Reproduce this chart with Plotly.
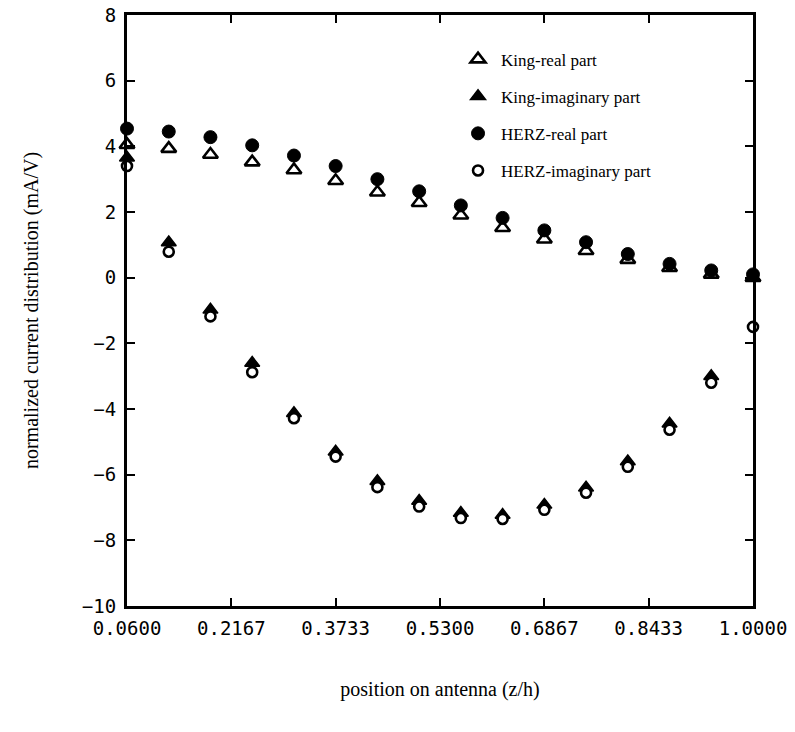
import plotly.graph_objects as go

# positions on antenna (z/h)
positions = [0.0600, 0.1227, 0.1853, 0.2480, 0.3107, 0.3733, 0.4360, 0.4987,
             0.5613, 0.6240, 0.6867, 0.7493, 0.8120, 0.8747, 0.9373, 1.0000]

king_real = [4.05, 3.93, 3.75, 3.52, 3.28, 2.95, 2.60, 2.28,
             1.90, 1.52, 1.17, 0.82, 0.55, 0.30, 0.10, 0.00]
king_imag = [3.65, 1.07, -0.98, -2.60, -4.13, -5.30, -6.20, -6.80,
             -7.17, -7.23, -6.92, -6.40, -5.60, -4.45, -3.00, 0.00]
herz_real = [4.54, 4.45, 4.28, 4.03, 3.72, 3.40, 3.00, 2.63,
             2.20, 1.82, 1.44, 1.08, 0.72, 0.42, 0.22, 0.10]
herz_imag = [3.40, 0.79, -1.18, -2.88, -4.28, -5.45, -6.38, -6.97,
             -7.32, -7.35, -7.07, -6.55, -5.76, -4.63, -3.20, -1.50]

tick_vals = [0.0600, 0.2167, 0.3733, 0.5300, 0.6867, 0.8433, 1.0000]
tick_text = ["0.0600", "0.2167", "0.3733", "0.5300", "0.6867", "0.8433", "1.0000"]

series = [
    ("King-real part", king_real, "triangle-up", 13, "white", 2.6),
    ("King-imaginary part", king_imag, "triangle-up", 13, "black", 1.5),
    ("HERZ-real part", herz_real, "circle", 13, "black", 1),
    ("HERZ-imaginary part", herz_imag, "circle", 10, "white", 2.6),
]

fig = go.Figure()
for i, (name, vals, sym, size, fill, lw) in enumerate(series):
    fig.add_trace(go.Scatter(
        x=positions, y=vals, mode="markers", name=name,
        legendgroup=f"g{i}",
        marker=dict(symbol=sym, size=size, color=fill,
                    line=dict(color="black", width=lw)),
        cliponaxis=False,
    ))

tick_font = dict(family="DejaVu Sans Mono", size=19, color="black")
title_font = dict(family="Liberation Serif", size=20, color="black")

fig.update_layout(
    width=795, height=732,
    margin=dict(l=127, r=42, t=15, b=126),
    paper_bgcolor="white", plot_bgcolor="white",
    showlegend=True,
    legend=dict(x=0.524, y=0.955, xanchor="left", yanchor="top",
                bgcolor="rgba(0,0,0,0)", borderwidth=0,
                itemwidth=36,
                font=dict(family="Liberation Serif", size=17, color="black"),
                tracegroupgap=12),
)
fig.update_xaxes(
    range=[0.06, 1.0], tickvals=tick_vals, ticktext=tick_text,
    showgrid=False, zeroline=False, automargin=False,
    showline=True, linecolor="black", linewidth=3, mirror="ticks",
    ticks="inside", ticklen=8, tickwidth=1.5, tickcolor="black",
    tickfont=tick_font, ticklabelstandoff=3, ticklabeloverflow="allow",
    title=dict(text="position on antenna (z/h)", font=title_font, standoff=45),
)
fig.update_yaxes(
    range=[-10, 8], dtick=2, tick0=0,
    showgrid=False, zeroline=False, automargin=False,
    showline=True, linecolor="black", linewidth=3, mirror="ticks",
    ticks="inside", ticklen=8, tickwidth=1.5, tickcolor="black",
    tickfont=tick_font, ticklabelstandoff=4, ticklabeloverflow="allow",
    title=dict(text="normalized current distribution (mA/V)", font=title_font, standoff=38),
)

fig.write_html("out.html",
               config={"displayModeBar": False},
               post_script="document.body.style.margin='0';document.body.style.padding='0';")
